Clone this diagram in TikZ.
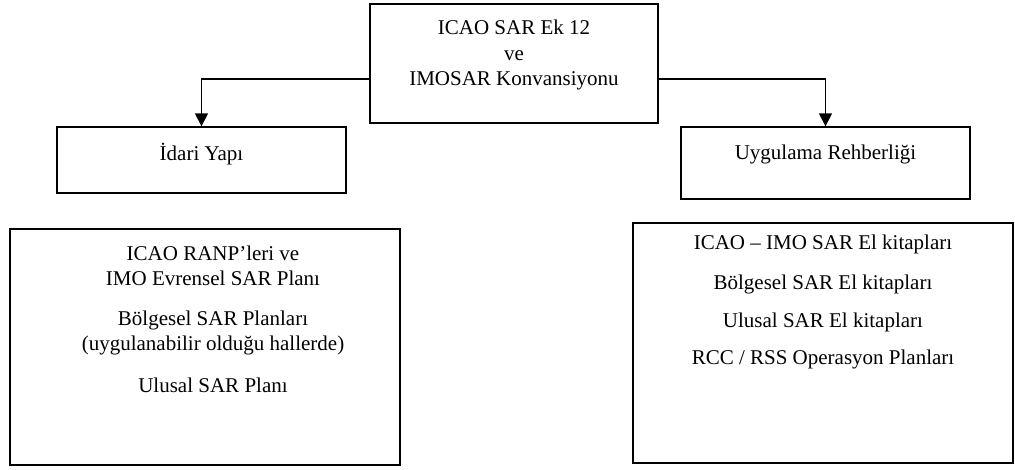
\documentclass[tikz,border=0pt]{standalone}
\usepackage{fontspec}
\setmainfont{Liberation Serif}
\usetikzlibrary{arrows.meta}
\begin{document}
\begin{tikzpicture}[x=1pt,y=-1pt,
  box/.style={draw, line width=1.3pt, inner sep=0pt},
  txt/.style={font=\fontsize{21}{25}\selectfont, anchor=base, inner sep=0pt},
  conn/.style={line width=1.3pt, -{Triangle[width=13pt,length=13pt]}}]
\useasboundingbox (0,0) rectangle (1015,469);
% boxes
\node[box, minimum width=288pt, minimum height=119pt] (top) at (514,63.5) {};
\node[box, minimum width=289pt, minimum height=66pt] (idari) at (201.5,160) {};
\node[box, minimum width=289pt, minimum height=72pt] (uyg) at (825.5,163) {};
\node[box, minimum width=390pt, minimum height=236pt] (plan) at (205,347) {};
\node[box, minimum width=380pt, minimum height=240pt] (kitap) at (823,343) {};
% texts
\node[txt] (t1) at (514,34) {ICAO SAR Ek 12};
\node[txt] (t2) at (514,60) {ve};
\node[txt] (t3) at (514,85) {IMOSAR Konvansiyonu};
\node[txt] (i1) at (201.5,160) {İdari Yapı};
\node[txt] (u1) at (825.5,159) {Uygulama Rehberliği};
\node[txt] (p1) at (213,260) {ICAO RANP’leri ve};
\node[txt] (p2) at (213,285) {IMO Evrensel SAR Planı};
\node[txt] (p3) at (213,325) {Bölgesel SAR Planları};
\node[txt] (p4) at (213,350) {(uygulanabilir olduğu hallerde)};
\node[txt] (p5) at (213,392) {Ulusal SAR Planı};
\node[txt] (k1) at (823,249) {ICAO – IMO SAR El kitapları};
\node[txt] (k2) at (823,289) {Bölgesel SAR El kitapları};
\node[txt] (k3) at (823,327) {Ulusal SAR El kitapları};
\node[txt] (k4) at (823,364) {RCC / RSS Operasyon Planları};
% connectors
\draw[conn] ([yshift=-15.5pt]top.west) -| (idari.north);
\draw[conn] ([yshift=-15.5pt]top.east) -| (uyg.north);
\end{tikzpicture}
\end{document}
